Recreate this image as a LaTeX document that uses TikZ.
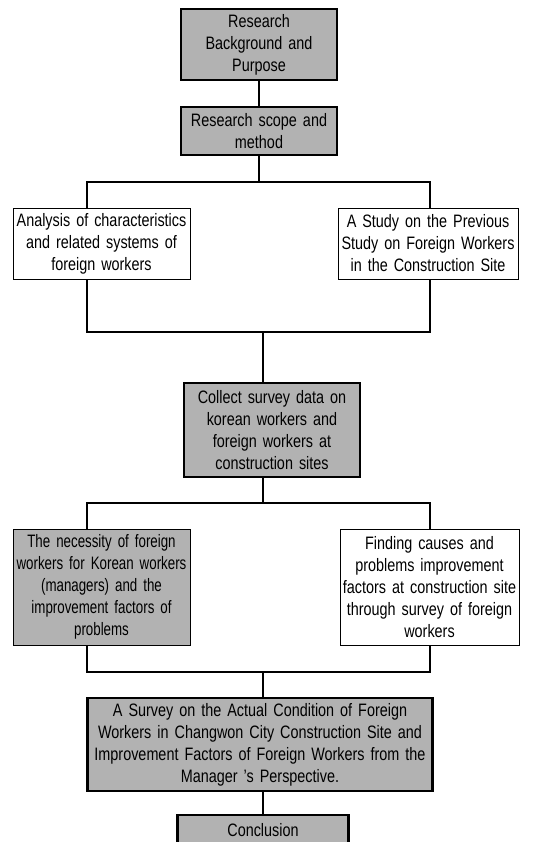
\documentclass[tikz,border=0pt]{standalone}
\usepackage{fontspec}
\setmainfont{Liberation Sans}[FakeStretch=0.8]
\newfontfamily\narrowfont{Liberation Sans}[FakeStretch=0.74]
\usepackage{tikz}
\usetikzlibrary{calc}
\definecolor{boxgray}{RGB}{178,178,178}
\newcommand\boxfont{\fontsize{18}{22}\selectfont\spaceskip=7.5pt\relax\hyphenpenalty=10000\relax}
\newcommand\narrowboxfont{\narrowfont\fontsize{18}{22}\selectfont\spaceskip=5pt\relax\hyphenpenalty=10000\relax}

\begin{document}
\begin{tikzpicture}[x=1pt,y=-1pt,
  mainbox/.style={draw,line width=2.6pt,fill=boxgray,align=center,inner sep=0pt,font=\boxfont},
  sidebox/.style={draw,line width=0.9pt,align=center,inner sep=0pt,font=\boxfont},
  link/.style={line width=2pt}]
\useasboundingbox (0,0) rectangle (551,842);

% Top of the flow
\node[mainbox,minimum width=156pt,minimum height=71pt,text width=154pt] (background) at (259,44.5) {Research\\Background and\\Purpose};
\node[mainbox,minimum width=156pt,minimum height=48pt,text width=154pt] (scope) at (259,131) {Research scope and\\method};

% First branch
\node[sidebox,minimum width=177pt,minimum height=71pt,text width=177pt] (analysis) at (101.5,243.5) {Analysis of characteristics\\and related systems of\\foreign workers};
\node[sidebox,minimum width=180pt,minimum height=71pt,text width=180pt] (previous) at (428,243.5) {A Study on the Previous\\Study on Foreign Workers\\in the Construction Site};

% Survey data
\node[mainbox,minimum width=176pt,minimum height=94pt,text width=174pt] (collect) at (272,430) {Collect survey data on\\korean workers and\\foreign workers at\\construction sites};

% Second branch
\node[sidebox,fill=boxgray,font=\narrowboxfont,minimum width=177pt,minimum height=116pt,text width=177pt] (necessity) at (101.5,587) {The necessity of foreign\\workers for Korean workers\\(managers) and the\\improvement factors of\\problems};
\node[sidebox,minimum width=179pt,minimum height=116pt,text width=179pt] (causes) at (429.5,587) {Finding causes and\\problems improvement\\factors at construction site\\through survey of foreign\\workers};

% Result and conclusion
\node[mainbox,minimum width=345pt,minimum height=93pt,text width=345pt] (survey) at (260,744.5) {A Survey on the Actual Condition of Foreign\\Workers in Changwon City Construction Site and\\Improvement Factors of Foreign Workers from the\\Manager ’s Perspective.};
\node[mainbox,minimum width=171pt,minimum height=30pt,text width=169pt] (conclusion) at (263,830) {Conclusion};

% Junctions
\coordinate (j1) at (259,182); \coordinate (j1l) at (87,182); \coordinate (j1r) at (430,182);
\coordinate (j2) at (263,332); \coordinate (j2l) at (87,332); \coordinate (j2r) at (430,332);
\coordinate (j3) at (263,503); \coordinate (j3l) at (87,503); \coordinate (j3r) at (430,503);
\coordinate (j4) at (263,672); \coordinate (j4l) at (87,672); \coordinate (j4r) at (430,672);

% Connectors
\draw[link] (background) -- (scope);
\draw[link] (scope.south) -- (j1);
\draw[link] (analysis.north -| j1l) -- (j1l) -- (j1r) -- (previous.north -| j1r);
\draw[link] (analysis.south -| j2l) -- (j2l) -- (j2r) -- (previous.south -| j2r);
\draw[link] (j2) -- (collect.north -| j2);
\draw[link] (collect.south -| j3) -- (j3);
\draw[link] (necessity.north -| j3l) -- (j3l) -- (j3r) -- (causes.north -| j3r);
\draw[link] (necessity.south -| j4l) -- (j4l) -- (j4r) -- (causes.south -| j4r);
\draw[link] (j4) -- (survey.north -| j4);
\draw[link] (survey.south -| conclusion) -- (conclusion);
\end{tikzpicture}
\end{document}
